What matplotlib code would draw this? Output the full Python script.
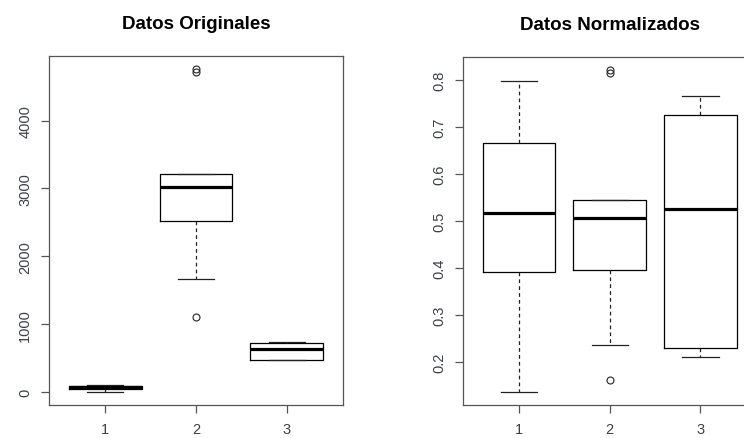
import matplotlib
matplotlib.use("Agg")
import matplotlib.pyplot as plt

plt.rcParams["font.family"] = ["Liberation Sans", "DejaVu Sans"]

groups = [1, 2, 3]

# raw data summaries: q1, median, q3, whiskers, outliers
orig_q1 = [45, 2517, 468]
orig_med = [70, 3028, 630]
orig_q3 = [88, 3215, 720]
orig_lo = [0, 1665, 468]
orig_hi = [100, 3215, 745]
orig_out = [[], [1108, 4710, 4760], []]

# normalised data summaries
norm_q1 = [0.391, 0.395, 0.230]
norm_med = [0.518, 0.506, 0.526]
norm_q3 = [0.667, 0.545, 0.725]
norm_lo = [0.135, 0.236, 0.210]
norm_hi = [0.798, 0.545, 0.766]
norm_out = [[], [0.160, 0.816, 0.822], []]

orig_ticks = [0, 1000, 2000, 3000, 4000]
norm_ticks = [0.2, 0.3, 0.4, 0.5, 0.6, 0.7, 0.8]


def make_stats(q1, med, q3, lo, hi, out):
    return [dict(q1=a, med=b, q3=c, whislo=d, whishi=e, fliers=f)
            for a, b, c, d, e, f in zip(q1, med, q3, lo, hi, out)]


def r_boxplot(ax, stats, title, ticks, ylim):
    ax.bxp(stats, positions=groups, widths=0.8,
           boxprops=dict(color="black", lw=0.9),
           medianprops=dict(color="black", lw=2.3, solid_capstyle="butt"),
           whiskerprops=dict(color="#222222", lw=0.9, ls=(0, (3, 2.5))),
           capprops=dict(color="#222222", lw=0.9),
           capwidths=0.4,
           flierprops=dict(marker="o", markerfacecolor="none",
                           markeredgecolor="#222222", markersize=5,
                           markeredgewidth=0.8))
    ax.set_xlim(0.38, 3.62)
    ax.set_ylim(*ylim)
    ax.set_xticks(groups)
    ax.set_xticklabels([str(g) for g in groups])
    ax.set_yticks(ticks)
    ax.set_yticklabels([f"{t:g}" for t in ticks], rotation=90, va="center")
    for s in ax.spines.values():
        s.set_color("#555555")
        s.set_linewidth(0.9)
    ax.tick_params(colors="#555555", labelcolor="#3a3f48", labelsize=10.5,
                   length=6, width=0.9, pad=6)
    ax.set_title(title, fontsize=13.5, fontweight="bold", pad=20)


fig = plt.figure(figsize=(7.44, 4.39), dpi=100)
ax1 = fig.add_axes([0.0659, 0.0752, 0.3951, 0.7948])
ax2 = fig.add_axes([0.6219, 0.0752, 0.3951, 0.7925])

r_boxplot(ax1, make_stats(orig_q1, orig_med, orig_q3, orig_lo, orig_hi, orig_out),
          "Datos Originales", orig_ticks, (-190, 4950))
r_boxplot(ax2, make_stats(norm_q1, norm_med, norm_q3, norm_lo, norm_hi, norm_out),
          "Datos Normalizados", norm_ticks, (0.1075, 0.8495))

fig.savefig("out.png", dpi=100)
